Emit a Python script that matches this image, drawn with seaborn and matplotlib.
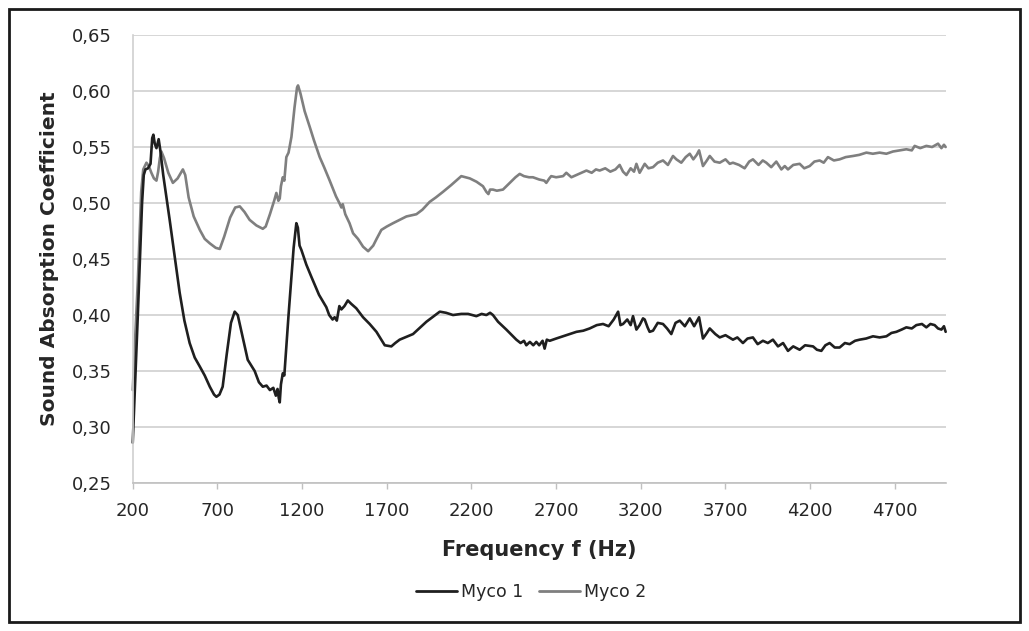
import pandas as pd
import numpy as np
import matplotlib
matplotlib.use("Agg")
import matplotlib.pyplot as plt
import seaborn as sns
from matplotlib.ticker import FuncFormatter, FixedLocator
from matplotlib.patches import Rectangle

# DATA
freq_myco1 = [200, 230, 255, 265, 275, 290, 305, 315, 322, 330, 340, 353, 362, 380, 418, 450, 477, 505, 536, 566,
              596, 625, 655, 680, 694, 712, 731, 755, 780, 802, 820, 845, 879, 920, 945, 968, 990, 1010, 1030, 1045,
              1055, 1062, 1068, 1075, 1086, 1095, 1120, 1150, 1166, 1175, 1185, 1196, 1225, 1255, 1300, 1343, 1360,
              1380, 1392, 1405, 1420, 1432, 1450, 1470, 1490, 1520, 1560, 1599, 1639, 1688, 1727, 1750, 1776, 1855,
              1934, 2013, 2050, 2091, 2140, 2180, 2229, 2260, 2288, 2310, 2327, 2357, 2406, 2465, 2490, 2510, 2524,
              2545, 2565, 2583, 2600, 2620, 2632, 2645, 2662, 2700, 2741, 2780, 2820, 2860, 2898, 2940, 2977, 3010,
              3040, 3066, 3080, 3095, 3120, 3140, 3154, 3174, 3193, 3213, 3223, 3240, 3252, 3272, 3300, 3331, 3355,
              3380, 3405, 3430, 3460, 3489, 3515, 3544, 3567, 3590, 3607, 3640, 3666, 3700, 3744, 3770, 3803, 3830,
              3862, 3890, 3921, 3950, 3980, 4010, 4040, 4069, 4100, 4138, 4170, 4217, 4240, 4266, 4290, 4315, 4345,
              4374, 4405, 4433, 4465, 4492, 4530, 4571, 4610, 4650, 4680, 4709, 4740, 4768, 4800, 4827, 4860, 4886,
              4910, 4935, 4955, 4975, 4990, 5000]
alpha_myco1 = [0.286, 0.400, 0.500, 0.525, 0.530, 0.531, 0.535, 0.558, 0.561, 0.553, 0.549, 0.557, 0.548, 0.525,
               0.485, 0.450, 0.420, 0.395, 0.375, 0.362, 0.354, 0.346, 0.336, 0.329, 0.327, 0.329, 0.336, 0.365,
               0.393, 0.403, 0.400, 0.383, 0.360, 0.350, 0.340, 0.336, 0.337, 0.333, 0.335, 0.328, 0.334, 0.326,
               0.322, 0.338, 0.348, 0.346, 0.400, 0.460, 0.482, 0.478, 0.462, 0.458, 0.445, 0.434, 0.418, 0.407,
               0.400, 0.396, 0.398, 0.395, 0.408, 0.405, 0.408, 0.413, 0.410, 0.406, 0.398, 0.392, 0.385, 0.373,
               0.372, 0.375, 0.378, 0.383, 0.394, 0.403, 0.402, 0.400, 0.401, 0.401, 0.399, 0.401, 0.400, 0.402,
               0.400, 0.394, 0.387, 0.378, 0.375, 0.377, 0.373, 0.376, 0.373, 0.376, 0.373, 0.377, 0.370, 0.378,
               0.377, 0.379, 0.381, 0.383, 0.385, 0.386, 0.388, 0.391, 0.392, 0.390, 0.396, 0.403, 0.391, 0.392,
               0.396, 0.391, 0.399, 0.387, 0.391, 0.397, 0.396, 0.389, 0.385, 0.386, 0.393, 0.392, 0.388, 0.383,
               0.393, 0.395, 0.390, 0.397, 0.390, 0.398, 0.379, 0.384, 0.388, 0.383, 0.380, 0.382, 0.378, 0.380,
               0.375, 0.379, 0.380, 0.374, 0.377, 0.375, 0.378, 0.372, 0.375, 0.368, 0.372, 0.369, 0.373, 0.372,
               0.369, 0.368, 0.373, 0.375, 0.371, 0.371, 0.375, 0.374, 0.377, 0.378, 0.379, 0.381, 0.380, 0.381,
               0.384, 0.385, 0.387, 0.389, 0.388, 0.391, 0.392, 0.389, 0.392, 0.391, 0.388, 0.387, 0.390, 0.385]

freq_myco2 = [200, 230, 250, 262, 281, 295, 310, 325, 340, 350, 360, 369, 385, 410, 437, 465, 496, 510, 530,
              560, 596, 625, 655, 690, 714, 740, 775, 805, 832, 860, 890, 930, 968, 985, 1010, 1035, 1048, 1060,
              1068, 1075, 1086, 1095, 1107, 1120, 1137, 1155, 1170, 1176, 1190, 1215, 1245, 1270, 1304, 1330, 1363,
              1400, 1420, 1432, 1440, 1455, 1480, 1501, 1530, 1560, 1590, 1620, 1640, 1668, 1700, 1737, 1776, 1816,
              1875, 1910, 1953, 1990, 2032, 2080, 2140, 2190, 2230, 2268, 2280, 2288, 2300, 2310, 2327, 2350, 2386,
              2420, 2460, 2485, 2510, 2540, 2563, 2600, 2630, 2642, 2660, 2671, 2700, 2741, 2760, 2790, 2820, 2850,
              2879, 2910, 2935, 2957, 2990, 3020, 3050, 3075, 3095, 3115, 3140, 3160, 3174, 3193, 3223, 3245, 3272,
              3300, 3331, 3360, 3390, 3410, 3439, 3465, 3489, 3510, 3530, 3544, 3567, 3590, 3607, 3635, 3666, 3700,
              3725, 3744, 3780, 3813, 3840, 3862, 3895, 3920, 3941, 3970, 4000, 4030, 4050, 4069, 4100, 4138, 4165,
              4197, 4225, 4256, 4280, 4305, 4340, 4374, 4410, 4453, 4490, 4532, 4570, 4610, 4650, 4689, 4730, 4768,
              4800, 4817, 4850, 4886, 4920, 4955, 4975, 4990, 5000]
alpha_myco2 = [0.333, 0.430, 0.510, 0.530, 0.536, 0.533, 0.527, 0.522, 0.520, 0.528, 0.540, 0.546, 0.540,
               0.527, 0.518, 0.522, 0.530, 0.525, 0.505, 0.488, 0.476, 0.468, 0.464, 0.460, 0.459, 0.470, 0.487,
               0.496, 0.497, 0.492, 0.485, 0.480, 0.477, 0.479, 0.490, 0.502, 0.509, 0.502, 0.504, 0.515, 0.523,
               0.520, 0.541, 0.545, 0.559, 0.585, 0.603, 0.605, 0.598, 0.582, 0.568, 0.556, 0.541, 0.532, 0.520,
               0.506, 0.500, 0.496, 0.499, 0.490, 0.482, 0.473, 0.468, 0.461, 0.457, 0.462, 0.468, 0.476, 0.479,
               0.482, 0.485, 0.488, 0.490, 0.494, 0.501, 0.505, 0.510, 0.516, 0.524, 0.522, 0.519, 0.515, 0.512,
               0.510, 0.508, 0.512, 0.512, 0.511, 0.512, 0.517, 0.523, 0.526, 0.524, 0.523, 0.523, 0.521, 0.520,
               0.518, 0.522, 0.524, 0.523, 0.524, 0.527, 0.523, 0.525, 0.527, 0.529, 0.527, 0.530, 0.529, 0.531,
               0.528, 0.530, 0.534, 0.528, 0.525, 0.531, 0.528, 0.535, 0.527, 0.535, 0.531, 0.532, 0.536, 0.538,
               0.534, 0.542, 0.539, 0.536, 0.541, 0.544, 0.539, 0.543, 0.547, 0.533, 0.538, 0.542, 0.537, 0.536,
               0.539, 0.535, 0.536, 0.534, 0.531, 0.537, 0.539, 0.534, 0.538, 0.536, 0.532, 0.537, 0.530, 0.533,
               0.530, 0.534, 0.535, 0.531, 0.533, 0.537, 0.538, 0.536, 0.541, 0.538, 0.539, 0.541, 0.542, 0.543,
               0.545, 0.544, 0.545, 0.544, 0.546, 0.547, 0.548, 0.547, 0.551, 0.549, 0.551, 0.550, 0.553, 0.549,
               0.552, 0.550]

series_names = ["Myco 1", "Myco 2"]
series_colors = ["#1f1f1f", "#7f7f7f"]
x_ticks = [200, 700, 1200, 1700, 2200, 2700, 3200, 3700, 4200, 4700]
y_ticks = [0.25, 0.30, 0.35, 0.40, 0.45, 0.50, 0.55, 0.60, 0.65]

df = pd.concat([
    pd.DataFrame({"freq": freq_myco1, "alpha": alpha_myco1, "sample": series_names[0]}),
    pd.DataFrame({"freq": freq_myco2, "alpha": alpha_myco2, "sample": series_names[1]}),
])

# STYLE
sns.set_theme(style="white")
plt.rcParams["font.family"] = ["DejaVu Sans"]
text_col = "#262626"

fig = plt.figure(figsize=(10.29, 6.31), dpi=100)
ax = fig.add_axes([0.129, 0.2345, 0.790, 0.710])

# gray drawn first so the black curve sits on top
sns.lineplot(data=df, x="freq", y="alpha", hue="sample", hue_order=series_names[::-1],
             palette=dict(zip(series_names, series_colors)),
             linewidth=1.9, ax=ax, legend=False, estimator=None, sort=False)
for ln in ax.lines:
    ln.set_clip_on(False)

ax.set_xlim(200, 5000)
ax.set_ylim(0.25, 0.65)
ax.xaxis.set_major_locator(FixedLocator(x_ticks))
ax.yaxis.set_major_locator(FixedLocator(y_ticks))
ax.yaxis.set_major_formatter(FuncFormatter(lambda v, p: f"{v:.2f}".replace(".", ",")))
ax.xaxis.set_major_formatter(FuncFormatter(lambda v, p: f"{int(v)}"))

ax.grid(axis="y", color="#d0d0d0", linewidth=1.2)
ax.set_axisbelow(True)
for s in ["top", "right"]:
    ax.spines[s].set_visible(False)
ax.spines["left"].set_color("#d0d0d0")
ax.spines["bottom"].set_color("#c0c0c0")
ax.spines["left"].set_linewidth(1.2)
ax.spines["bottom"].set_linewidth(1.2)

ax.tick_params(axis="x", bottom=True, length=4, width=1, color="#c0c0c0",
               labelsize=13, labelcolor=text_col, pad=10)
ax.tick_params(axis="y", left=False, length=0, labelsize=13, labelcolor=text_col, pad=15)

ax.set_xlabel("Frequency f (Hz)", fontsize=15, fontweight="bold", color=text_col, labelpad=14)
ax.set_ylabel("Sound Absorption Coefficient", fontsize=14.5, fontweight="bold", color=text_col, labelpad=9)

handles = [plt.Line2D([], [], color=c, linewidth=2) for c in series_colors]
fig.legend(handles, series_names, loc="center", bbox_to_anchor=(0.516, 0.062), ncol=2,
           frameon=False, fontsize=12.5, handlelength=2.4, handletextpad=0.2, columnspacing=0.9,
           labelcolor=text_col)

# outer frame
fig.patches.append(Rectangle((9 / 1029, 9 / 631), 1011 / 1029, 613 / 631, transform=fig.transFigure,
                             fill=False, edgecolor="#1a1a1a", linewidth=2))

fig.savefig("out.png", dpi=100)
